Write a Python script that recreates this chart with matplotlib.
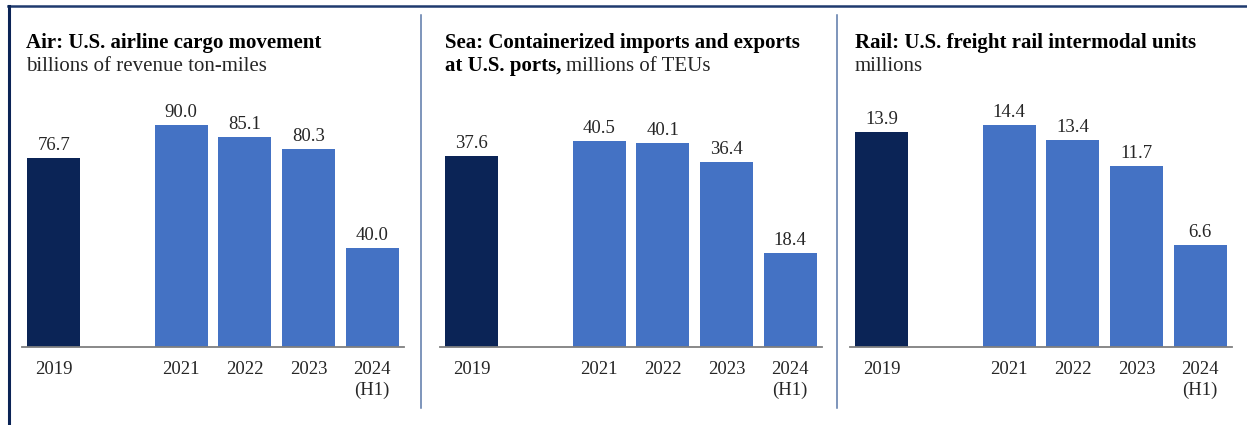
import numpy as np
import matplotlib
matplotlib.use("Agg")
import matplotlib.pyplot as plt
from matplotlib.lines import Line2D

plt.rcParams['font.family'] = ['Liberation Serif', 'DejaVu Serif']

# data
years = np.array([2019, 2021, 2022, 2023, 2024])
year_labels = ['2019', '2021', '2022', '2023', '2024\n(H1)']
air = [76.7, 90.0, 85.1, 80.3, 40.0]
sea = [37.6, 40.5, 40.1, 36.4, 18.4]
rail = [13.9, 14.4, 13.4, 11.7, 6.6]

navy = '#0B2456'
blue = '#4472C4'
txt = '#262626'

W, H = 1247, 425
fig = plt.figure(figsize=(W / 100, H / 100), dpi=100)
fig.patch.set_facecolor('white')


def px(x0, y0, x1, y1):
    # pixel box (top-left origin) -> figure fraction rect
    return [x0 / W, 1 - y1 / H, (x1 - x0) / W, (y1 - y0) / H]


panels = [
    # (values, axes left px, ylim top)
    (air, 22, 100.1),
    (sea, 440, 48.6),
    (rail, 850, 16.0),
]

for vals, left, ytop in panels:
    ax = fig.add_axes(px(left, 100, left + 382, 347))
    x = years - years[0]
    cols = [navy] + [blue] * (len(vals) - 1)
    ax.bar(x, vals, width=0.83, color=cols)
    for xi, v in zip(x, vals):
        ax.annotate(f'{v:.1f}', (xi, v), xytext=(0, 3), textcoords='offset points',
                    ha='center', va='bottom', fontsize=13.5, color=txt)
    ax.set_xlim(-0.5, 5.5)
    ax.set_ylim(0, ytop)
    ax.set_xticks(x)
    ax.set_xticklabels(year_labels, fontsize=13.5, color=txt, linespacing=1.3, va='top')
    ax.tick_params(axis='x', length=0, pad=10)
    ax.set_yticks([])
    for s in ['top', 'right', 'left']:
        ax.spines[s].set_visible(False)
    ax.spines['bottom'].set_color('#7F7F7F')
    ax.spines['bottom'].set_linewidth(1.3)
    ax.patch.set_alpha(0)

# titles
def ty(ypx):
    return 1 - ypx / H

tfs = 15
fig.text(26 / W, ty(48), 'Air: U.S. airline cargo movement', fontsize=tfs,
         fontweight='bold', color='black', va='baseline')
fig.text(26 / W, ty(71), 'billions of revenue ton-miles', fontsize=tfs,
         color=txt, va='baseline')

fig.text(445 / W, ty(48), 'Sea: Containerized imports and exports', fontsize=tfs,
         fontweight='bold', color='black', va='baseline')
t2 = fig.text(445 / W, ty(71), 'at U.S. ports,', fontsize=tfs,
              fontweight='bold', color='black', va='baseline')
r = fig.canvas.get_renderer()
bb = t2.get_window_extent(renderer=r)
fig.text(bb.x1 / W + 5 / W, ty(71), 'millions of TEUs', fontsize=tfs,
         color=txt, va='baseline')

fig.text(855 / W, ty(48), 'Rail: U.S. freight rail intermodal units', fontsize=tfs,
         fontweight='bold', color='black', va='baseline')
fig.text(855 / W, ty(71), 'millions', fontsize=tfs, color=txt, va='baseline')

# frame and separators
fig.add_artist(Line2D([8 / W, 1], [ty(6), ty(6)], color='#1F3A6E', lw=1.8))
fig.add_artist(Line2D([9 / W, 9 / W], [ty(6), 0], color='#0B2456', lw=2.2))
for xs in [421, 837]:
    fig.add_artist(Line2D([xs / W, xs / W], [ty(15), ty(408)], color='#5A78A8', lw=1.1))

fig.savefig('out.png', dpi=100)
